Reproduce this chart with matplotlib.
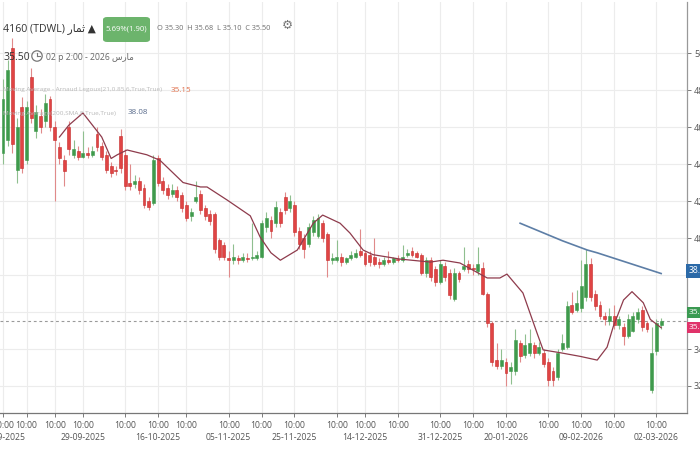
import matplotlib
matplotlib.use("Agg")
import matplotlib.pyplot as plt
from matplotlib.patches import FancyBboxPatch, Circle
from matplotlib.lines import Line2D
from matplotlib.transforms import IdentityTransform

plt.rcParams['font.family'] = ['Open Sans', 'DejaVu Sans']

# ---------------- data (4h candles, index order) ----------------
opens = [44.6, 45.3, 50.3, 43.7, 47.1, 44.2, 48.7, 45.8, 46.6, 46.3,
         47.5, 46.0, 44.9, 44.2, 46.0, 44.5, 44.7, 44.4, 44.6, 44.5,
         45.6, 45.0, 44.5, 43.9, 43.7, 45.5, 44.5, 43.0, 42.9, 43.1,
         42.7, 42.0, 41.9, 44.3, 43.1, 42.7, 42.4, 42.6, 42.3, 41.8,
         41.2, 42.0, 42.4, 41.6, 41.3, 41.3, 39.9, 39.6, 38.9, 38.8,
         38.9, 38.8, 38.9, 38.9, 38.9, 39.0, 40.6, 41.0, 40.8, 41.4,
         42.2, 41.6, 41.8, 40.4, 40.0, 39.7, 40.3, 40.1, 40.8, 40.2,
         38.8, 38.8, 39.0, 38.7, 38.9, 39.0, 39.3, 39.2, 39.1, 39.0,
         38.7, 38.6, 38.8, 38.7, 38.85, 38.8, 39.1, 39.3, 39.2, 39.1,
         38.1, 38.8, 38.3, 37.6, 38.5, 38.1, 36.7, 38.1, 38.3, 38.6,
         38.4, 38.2, 38.4, 37.0, 35.4, 33.4, 33.1, 33.3, 32.8, 32.8,
         34.3, 33.7, 33.8, 34.2, 33.8, 33.8, 33.3, 32.8, 32.5, 34.0,
         34.1, 36.4, 36.1, 36.2, 36.8, 38.6, 37.0, 36.4, 35.8, 35.5,
         35.8, 35.3, 35.2, 34.7, 35.0, 35.6, 36.1, 35.4, 31.8, 33.9,
         35.30]
highs = [48.6, 49.6, 50.8, 46.5, 47.6, 47.4, 49.2, 47.2, 47.0, 47.8,
         47.7, 46.3, 45.2, 44.5, 46.3, 45.3, 45.0, 45.8, 44.9, 45.0,
         46.0, 45.2, 44.7, 44.1, 43.9, 45.9, 44.8, 44.0, 43.4, 43.3,
         42.9, 42.2, 44.5, 44.5, 43.3, 42.9, 42.9, 42.8, 42.5, 42.0,
         41.6, 43.1, 42.6, 41.8, 41.5, 41.4, 40.0, 39.8, 39.3, 39.7,
         39.1, 39.2, 39.2, 40.8, 39.3, 41.0, 41.4, 41.2, 42.0, 41.6,
         42.5, 42.3, 42.0, 40.6, 40.2, 40.8, 41.2, 41.3, 41.0, 40.3,
         39.2, 39.9, 39.2, 39.0, 39.3, 39.4, 40.5, 39.3, 39.3, 40.0,
         38.9, 39.0, 39.3, 39.0, 39.1, 39.6, 39.4, 39.5, 39.3, 39.2,
         39.0, 39.0, 38.5, 38.8, 38.7, 38.3, 38.4, 38.2, 39.5, 38.8,
         38.6, 39.5, 38.7, 37.1, 35.5, 34.3, 34.0, 33.5, 33.3, 35.1,
         34.5, 34.8, 35.1, 34.4, 34.4, 34.0, 33.5, 33.0, 34.0, 34.8,
         36.6, 37.1, 37.2, 38.8, 39.4, 38.9, 37.2, 36.6, 36.0, 36.2,
         36.4, 35.8, 35.4, 35.9, 36.0, 36.2, 36.3, 35.5, 35.2, 35.6,
         35.68]
lows = [44.0, 45.0, 44.6, 43.0, 43.5, 44.0, 46.2, 45.4, 45.7, 46.0,
        45.8, 42.0, 44.0, 42.8, 44.5, 44.3, 44.2, 44.3, 44.3, 44.4,
        44.7, 44.2, 43.5, 43.3, 43.4, 43.5, 42.6, 42.6, 42.7, 42.4,
        41.6, 41.5, 41.8, 42.8, 42.4, 42.1, 42.2, 42.0, 41.4, 40.9,
        40.9, 41.9, 41.3, 41.0, 40.7, 39.2, 38.8, 38.8, 37.9, 38.6,
        38.6, 38.7, 38.7, 38.8, 38.8, 38.9, 40.3, 40.0, 40.6, 40.6,
        41.3, 41.4, 40.1, 39.4, 38.9, 39.5, 40.1, 40.0, 39.8, 37.9,
        38.6, 38.7, 38.5, 38.6, 38.8, 38.9, 39.0, 38.5, 38.5, 38.5,
        38.4, 38.5, 38.6, 38.6, 38.7, 38.7, 39.0, 39.0, 38.9, 38.0,
        37.9, 37.7, 37.4, 37.5, 37.7, 36.7, 36.6, 37.6, 38.2, 38.1,
        38.0, 38.0, 36.9, 35.2, 33.1, 32.9, 32.9, 32.0, 32.1, 32.6,
        33.3, 33.5, 33.6, 33.5, 33.7, 33.0, 32.0, 32.0, 32.3, 33.9,
        34.0, 35.9, 36.0, 36.0, 36.6, 36.6, 36.1, 35.6, 35.3, 35.3,
        35.1, 35.1, 34.2, 34.6, 34.9, 35.4, 35.0, 34.9, 31.6, 33.7,
        35.10]
closes = [47.5, 49.1, 45.1, 46.0, 43.8, 47.1, 46.5, 46.8, 46.0, 47.3,
          46.0, 45.3, 44.3, 43.6, 44.8, 44.8, 44.4, 44.6, 44.5, 44.7,
          44.9, 44.4, 43.7, 43.5, 43.6, 43.8, 42.8, 42.8, 43.1, 42.6,
          41.8, 41.7, 44.2, 43.0, 42.6, 42.3, 42.6, 42.2, 41.6, 41.1,
          41.4, 42.2, 41.5, 41.2, 40.9, 39.4, 39.0, 39.0, 38.8, 38.95,
          38.8, 39.0, 38.85, 39.0, 39.1, 40.8, 41.1, 40.4, 41.7, 40.8,
          41.5, 42.0, 40.3, 39.7, 39.4, 40.6, 41.0, 41.1, 40.0, 38.8,
          38.9, 39.0, 38.7, 38.9, 39.1, 39.2, 39.1, 38.6, 38.7, 38.6,
          38.6, 38.8, 38.7, 38.9, 38.8, 39.0, 39.2, 39.1, 39.0, 38.1,
          38.8, 37.9, 37.6, 38.6, 37.9, 36.9, 38.1, 37.8, 38.5, 38.3,
          38.3, 38.6, 37.0, 35.4, 33.3, 33.1, 33.4, 32.7, 33.0, 34.5,
          33.6, 34.2, 34.3, 33.8, 34.1, 33.2, 32.3, 32.3, 33.8, 34.3,
          36.3, 36.0, 36.5, 37.4, 38.6, 36.8, 36.3, 35.8, 35.6, 35.8,
          35.3, 35.6, 34.7, 35.6, 35.8, 36.0, 35.2, 35.1, 33.8, 35.4,
          35.50]

# ALMA(21, 0.85, 6) curve (candle index, value)
alma_idx = [12, 14, 17, 21, 23, 24.3, 26.4, 30.6, 33.4, 38.3, 42, 43.4,
            47.7, 52.6, 54.7, 57, 59, 62.6, 66, 68, 71.7, 73.8, 76.6,
            78.7, 84.5, 90.9, 93.6, 97.2, 103, 105.7, 107.2, 110.6,
            113.6, 114.9, 118.5, 122.8, 126.4, 128.5, 129.8, 132, 133.8,
            136.2, 137.7, 140]
alma_val = [45.46, 46.1, 46.76, 45.46, 44.3, 44.5, 44.76, 44.5, 44.2,
            43.0, 42.76, 42.76, 42.05, 41.2, 40.05, 39.2, 38.8, 39.35,
            40.8, 41.24, 40.8, 40.27, 39.35, 39.1, 38.86, 38.7, 38.8,
            38.65, 37.84, 37.84, 38.05, 37.03, 34.86, 33.95, 33.8, 33.6,
            33.4, 34.1, 35.2, 36.65, 37.1, 36.5, 35.6, 35.15]

# SMA(200)
sma_idx = [110, 119, 124.3, 126.4, 140]
sma_val = [40.8, 39.85, 39.35, 39.2, 38.08]

# x-axis tick positions (candle index) and labels
tick_idx = [0, 5, 11, 17, 26, 33, 39, 48, 55, 62, 71, 77, 84, 93, 100,
            107, 116, 123, 130, 139]
tick_time = ["10:00"] * len(tick_idx)
tick_date = ["10-09-2025", "", "", "29-09-2025", "", "16-10-2025", "",
             "05-11-2025", "", "25-11-2025", "", "14-12-2025", "",
             "31-12-2025", "", "20-01-2026", "", "09-02-2026", "",
             "02-03-2026"]
y_ticks = [32, 34, 36, 38, 40, 42, 44, 46, 48, 50]

last_close = 35.50
alma_last = 35.15
sma_last = 38.08

# ---------------- figure ----------------
W, H = 700, 450
fig = plt.figure(figsize=(7, 4.5), dpi=100)
fig.patch.set_facecolor('white')
ax = fig.add_axes([0, 37 / H, 687 / W, 411 / H])

UP = '#3f9a4c'
DN = '#e04444'
DN_EDGE = '#c42b2b'

n = len(closes)
xs = list(range(n))
for i in xs:
    o, h, l, c = opens[i], highs[i], lows[i], closes[i]
    up = c >= o
    col = UP if up else DN
    ax.vlines(i, l, h, color=('#8fbf8f' if up else '#e08a8a'), lw=0.8, zorder=2)
    bot = min(o, c)
    ht = max(abs(c - o), 0.08)
    ax.bar(i, ht, bottom=bot, width=0.62, color=col,
           edgecolor=(UP if up else DN_EDGE), linewidth=0.4, zorder=3)

ax.plot(alma_idx, alma_val, color='#8e3b4c', lw=0.9, zorder=4)
ax.plot(sma_idx, sma_val, color='#5d7ea6', lw=1.2, zorder=4)
ax.axhline(last_close, color='#9a9a9a', lw=0.8, ls=(0, (2.5, 2.5)), zorder=1)

ax.set_xlim(-0.64, 145.5)
ax.set_ylim(30.54, 52.76)

# y ticks: labels hidden where the price boxes cover them
box_levels = [36, 38]
ax.set_yticks(y_ticks)
ax.set_yticklabels(["" if v in box_levels else f"{v:.2f}" for v in y_ticks])
ax.set_xticks(tick_idx)
ax.set_xticklabels(tick_time)
ax.grid(True, color='#ececec', lw=0.8, zorder=0)
ax.set_axisbelow(True)

ax.yaxis.tick_right()
ax.tick_params(axis='y', labelsize=6.5, colors='#666666', length=3, pad=2, width=0.6)
ax.tick_params(axis='x', labelsize=6.2, colors='#666666', length=3, pad=3, width=0.6)
for lab in ax.get_yticklabels():
    lab.set_color('#555555')
for lab in ax.get_xticklabels():
    lab.set_color('#555555')
for s in ['left', 'top']:
    ax.spines[s].set_visible(False)
ax.spines['bottom'].set_color('#777777')
ax.spines['bottom'].set_linewidth(0.9)
ax.spines['right'].set_color('#999999')
ax.spines['right'].set_linewidth(0.9)

# date row under the time labels
xtr = ax.get_xaxis_transform()
for xi, d in zip(tick_idx, tick_date):
    if d:
        ax.text(xi, -25 / 411, d, transform=xtr, ha='center', va='center',
                fontsize=6.2, color='#555555', clip_on=False)

# price boxes on the right axis
ytr = ax.get_yaxis_transform()
ax.text(1.003, 38.22, f"{sma_last:.2f}", transform=ytr, color='white',
        fontsize=6.2, va='center', ha='left', clip_on=False, zorder=6,
        bbox=dict(boxstyle='square,pad=0.3', fc='#2c6aa8', ec='none'))
ax.text(1.003, 35.98, f"{last_close:.2f}", transform=ytr, color='white',
        fontsize=6.0, va='center', ha='left', clip_on=False, zorder=6,
        bbox=dict(boxstyle='square,pad=0.25', fc='#3b9a52', ec='none'))
ax.text(1.003, 35.18, f"{alma_last:.2f}", transform=ytr, color='white',
        fontsize=6.0, va='center', ha='left', clip_on=False, zorder=7,
        bbox=dict(boxstyle='square,pad=0.25', fc='#e0336a', ec='none'))


# ---------------- header texts ----------------
def ftxt(xp, yp, s, **kw):
    kw.setdefault('va', 'center')
    kw.setdefault('ha', 'left')
    return fig.text(xp / W, 1 - yp / H, s, **kw)

ftxt(3, 29, "4160 (TDWL) \uFEAD\uFE8E\uFEE4\uFE9B \u25B2", fontsize=7.6, color='#333333')
badge = FancyBboxPatch((103 / W, 1 - 42 / H), 47 / W, 25 / H,
                       boxstyle='round,pad=0,rounding_size=0.006',
                       transform=fig.transFigure, fc='#6cb46c', ec='none', zorder=5)
fig.patches.append(badge)
ftxt(126.5, 29.5, "5.69%(1.90)", fontsize=5.6, color='white', ha='center', zorder=6)
ftxt(157, 29, "O 35.30  H 35.68  L 35.10  C 35.50", fontsize=5.3, color='#6f6f6f')
ftxt(282, 25, "\u2699", fontsize=9, color='#777777')

ftxt(3, 57, "35.50", fontsize=7.5, color='#333333')
clock = Circle((37, H - 56), 5.2, transform=IdentityTransform(), fill=False,
               ec='#777777', lw=0.9)
fig.add_artist(clock)
fig.add_artist(Line2D([37, 37], [H - 56, H - 52.5], transform=IdentityTransform(),
                      color='#777777', lw=0.8))
fig.add_artist(Line2D([37, 39.8], [H - 56, H - 56], transform=IdentityTransform(),
                      color='#777777', lw=0.8))
ftxt(46, 57, "02 p 2:00 - 2026 \uFEB1\uFEAD\uFE8E\uFEE3", fontsize=6.2, color='#666666')

ftxt(3, 90, "Moving Average - Arnaud Legoux(21,0.85,6,True,True)", fontsize=4.6,
     color='#b9b9b9')
ftxt(171, 90, "35.15", fontsize=5.8, color='#e0704c')
ftxt(3, 113, "Moving Average(200,SMA,E,True,True)", fontsize=4.6, color='#b9b9b9')
ftxt(128, 113, "38.08", fontsize=5.8, color='#5a6c8c')

fig.savefig("out.png", dpi=100)
